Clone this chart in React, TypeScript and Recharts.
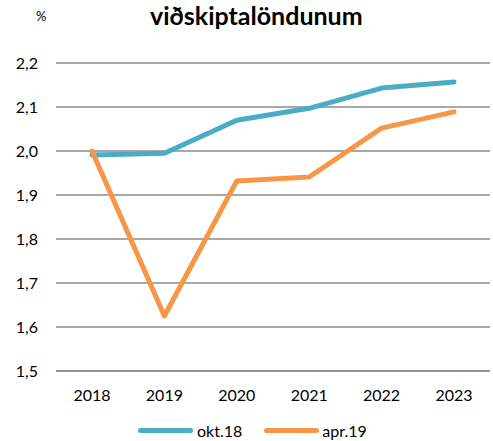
import React from 'react';
import { LineChart, Line, XAxis, YAxis, CartesianGrid } from 'recharts';

const years = ['2018', '2019', '2020', '2021', '2022', '2023'];
const okt18 = [1.991, 1.995, 2.07, 2.097, 2.143, 2.157];
const apr19 = [2.0, 1.625, 1.932, 1.941, 2.052, 2.089];
const yTicks = [1.5, 1.6, 1.7, 1.8, 1.9, 2.0, 2.1, 2.2];

const data = years.map((y, i) => ({ year: y, okt18: okt18[i], apr19: apr19[i] }));

const FONT = 'Lato, "Open Sans", sans-serif';

const LegendContent = () => (
  <div style={{ display: 'flex', justifyContent: 'flex-start', alignItems: 'center', fontFamily: FONT, fontSize: 16, color: '#000' }}>
    <span style={{ display: 'inline-block', width: 55, height: 5, borderRadius: 3, background: '#4BACC6', marginRight: 4 }} />
    <span style={{ marginRight: 22 }}>okt.18</span>
    <span style={{ display: 'inline-block', width: 55, height: 5, borderRadius: 3, background: '#F79646', marginRight: 3 }} />
    <span>apr.19</span>
  </div>
);

export default function App() {
  return (
    <div style={{ position: 'absolute', left: 0, top: 0, width: 493, height: 441, background: '#fff' }}>
      <div style={{ position: 'absolute', left: 150, top: 0, whiteSpace: 'nowrap', fontFamily: FONT, fontWeight: 'bold', fontSize: 25, lineHeight: '30px' }}>
        viðskiptalöndunum
      </div>
      <div style={{ position: 'absolute', left: 36, top: 8, fontFamily: FONT, fontSize: 13 }}>%</div>
      <LineChart width={493} height={441} data={data} margin={{ top: 63, right: 3, left: 16, bottom: 40 }}>
        <CartesianGrid vertical={false} stroke="#8c8c8c" strokeWidth={1.5} />
        <XAxis
          dataKey="year"
          height={30}
          padding={{ left: 36, right: 36 }}
          axisLine={{ stroke: '#8c8c8c', strokeWidth: 1.5 }}
          tickLine={false}
          tickMargin={13}
          tick={{ fill: '#000', fontSize: 16, fontFamily: FONT }}
        />
        <YAxis
          domain={[1.5, 2.2]}
          ticks={yTicks}
          width={40}
          axisLine={false}
          tickLine={false}
          tickMargin={12}
          tickFormatter={(v: number) => v.toFixed(1).replace('.', ',')}
          tick={{ fill: '#000', fontSize: 16, fontFamily: FONT }}
        />
        <Line type="linear" dataKey="okt18" name="okt.18" stroke="#4BACC6" strokeWidth={5} dot={false} strokeLinecap="round" strokeLinejoin="round" isAnimationActive={false} />
        <Line type="linear" dataKey="apr19" name="apr.19" stroke="#F79646" strokeWidth={5} dot={false} strokeLinecap="round" strokeLinejoin="round" isAnimationActive={false} />
      </LineChart>
      <div style={{ position: 'absolute', left: 138, top: 421 }}>
        <LegendContent />
      </div>
    </div>
  );
}
